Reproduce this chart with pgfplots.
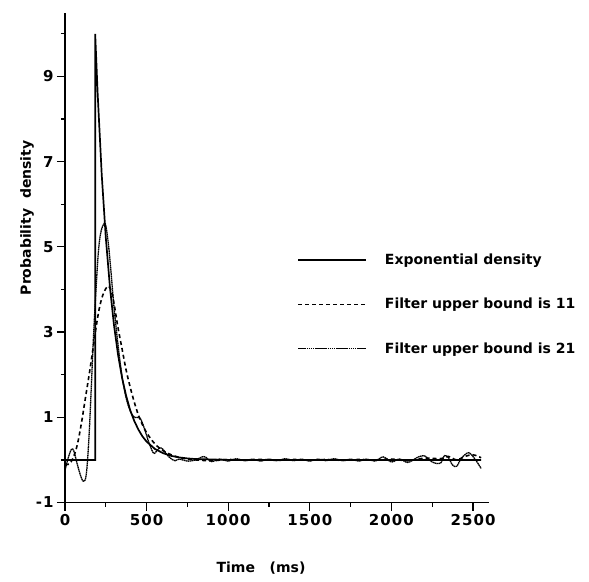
\documentclass[border=0pt]{standalone}
\usepackage{fontspec}
\setmainfont{DejaVu Sans}
\usepackage{pgfplots}
\pgfplotsset{compat=1.18}
\newcommand{\bigbf}{\bfseries\fontsize{14}{16}\selectfont}
\newcommand{\legbf}{\bfseries\fontsize{14}{16}\selectfont}
\newcommand{\tickbf}{\bfseries\fontsize{15}{17}\selectfont\addfontfeatures{LetterSpace=7}}
\begin{document}
\begin{tikzpicture}
\begin{axis}[
  scale only axis, width=424.3pt, height=489.9pt,
  xmin=0, xmax=2600, ymin=-1, ymax=10.5,
  axis x line=bottom, axis y line=left,
  axis line style={-, line width=1.5pt},
  xtick={0,500,...,2500}, minor xtick={250,750,...,2250},
  ytick={-1,1,3,5,7,9}, minor ytick={0,2,4,6,8,10},
  tick align=outside, major tick length=8pt, minor tick length=4pt,
  every tick/.style={line width=1.2pt, black},
  ticklabel style={font=\tickbf},
  /pgf/number format/assume math mode=true,
  /pgf/number format/set thousands separator={},
  xlabel={Time\ \ \ (ms)}, ylabel={Probability\ \ density},
  label style={font=\bigbf},
  xlabel style={at={(axis description cs:0.462,-0.134)}, anchor=center},
  ylabel style={at={(axis description cs:-0.0896,0.581)}, anchor=center},
  legend style={at={(axis description cs:0.547,0.5113)}, anchor=north west,
    draw=none, fill=none, font=\legbf, row sep=28pt, inner sep=0pt,
    /tikz/every odd column/.append style={column sep=16pt}},
  legend cell align=left,
  legend image code/.code={\draw[#1] (0pt,0pt) -- (68pt,0pt);},
]
% Exponential density
\addplot[black, line width=1.7pt, sharp plot] coordinates {
(0,0) (185,0) (185,10) (200,8.61) (225,6.70) (250,5.22) (275,4.07) (300,3.17)
(325,2.47) (350,1.92) (375,1.50) (400,1.16) (425,0.91) (450,0.71) (475,0.55)
(500,0.43) (550,0.26) (600,0.16) (650,0.095) (700,0.058) (750,0.035) (800,0.02)
(900,0.01) (1000,0) (2550,0)
};
\addlegendentry{Exponential density}
% Filter upper bound 11
\addplot[black, line width=1.6pt, dash pattern=on 4pt off 3pt, smooth, tension=0.6] coordinates {
(0,-0.1) (25,-0.1) (50,0.05) (75,0.35) (100,0.85) (125,1.45) (150,2.05) (175,2.7)
(190,3.1) (210,3.55) (230,3.85) (250,4.02) (267,4.08) (285,3.95) (300,3.68)
(325,3.1) (350,2.6) (375,2.1) (400,1.7) (425,1.35) (450,1.05) (475,0.82)
(500,0.64) (525,0.5) (550,0.38) (575,0.29) (600,0.22) (650,0.12) (700,0.06)
(750,0.02) (800,0.0) (900,-0.02) (1000,0.01) (1100,-0.01) (1200,0.01) (1300,-0.01)
(1400,0.01) (1500,-0.01) (1600,0.01) (1700,-0.01) (1800,0.01) (1900,0.0)
(2000,0.02) (2100,-0.02) (2200,0.04) (2300,0.03) (2350,0.08) (2400,0.0)
(2450,0.08) (2500,0.12) (2550,0.05)
};
\addlegendentry{Filter upper bound is 11}
% Filter upper bound 21
\addplot[black, line width=1.3pt, dash pattern=on 1.6pt off 0.5pt, smooth, tension=0.6] coordinates {
(0,-0.25) (20,0.05) (40,0.25) (55,0.2) (75,-0.1) (100,-0.42) (115,-0.5) (130,-0.35)
(145,0.4) (160,1.6) (170,2.5) (180,3.3) (190,4.0) (205,4.9) (220,5.35) (240,5.55)
(250,5.5) (265,5.1) (280,4.5) (300,3.6) (325,2.7) (350,1.95) (375,1.45) (400,1.15)
(425,1.0) (450,1.0) (465,0.95) (490,0.7) (510,0.45) (530,0.25) (545,0.15)
(560,0.2) (580,0.28) (600,0.25) (625,0.12) (650,0.03) (675,-0.02) (700,0.02)
(750,-0.03) (800,0.0) (850,0.08) (875,0.02) (900,-0.04) (950,0.02) (1000,-0.03)
(1050,0.03) (1100,-0.02) (1150,0.02) (1200,-0.03) (1250,0.02) (1300,-0.02)
(1350,0.03) (1400,-0.02) (1450,0.02) (1500,-0.03) (1550,0.02) (1600,-0.02)
(1650,0.03) (1700,-0.02) (1750,0.02) (1800,-0.03) (1850,0.02) (1900,-0.03)
(1950,0.07) (2000,-0.05) (2050,0.02) (2100,-0.06) (2150,0.04) (2200,0.1)
(2250,-0.05) (2300,-0.08) (2325,0.1) (2350,0.05) (2375,-0.12) (2400,-0.15)
(2425,0.02) (2450,0.12) (2475,0.17) (2500,0.08) (2525,-0.05) (2550,-0.2)
};
\addlegendentry{Filter upper bound is 21}
\end{axis}
\pgfresetboundingbox
\path (-65pt,-78.5pt) rectangle (524pt,502.5pt);
\end{tikzpicture}
\end{document}
